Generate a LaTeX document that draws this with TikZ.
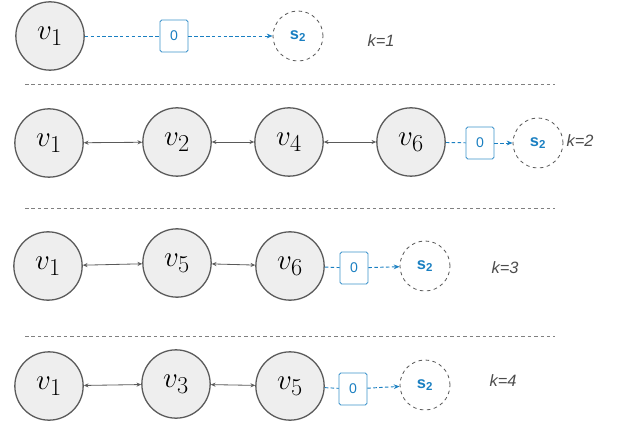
\documentclass[tikz,border=0pt]{standalone}
\usepackage{fontspec}
\setsansfont{Liberation Sans}
\usepackage{xcolor}
\usetikzlibrary{arrows.meta}

\definecolor{linkblue}{HTML}{1A7FC1}
\definecolor{nodegray}{HTML}{EEEEEE}
\definecolor{rimgray}{HTML}{5A5A5A}

\begin{document}
\begin{tikzpicture}[
    x=0.03cm, y=-0.03cm,
    vert/.style={circle, draw=rimgray, fill=nodegray, line width=1.1pt, minimum size=2.05cm, inner sep=0pt, font=\fontsize{29}{31}\selectfont},
    sink/.style={circle, draw=rimgray, dashed, line width=0.7pt, minimum size=1.5cm, inner sep=0pt, text=linkblue, font=\sffamily\bfseries\fontsize{14}{15}\selectfont},
    zero/.style={draw=linkblue!85, rounded corners=1.5pt, line width=0.7pt, minimum width=0.84cm, minimum height=0.96cm, inner sep=0pt, text=linkblue, font=\sffamily\fontsize{12}{13}\selectfont},
    kval/.style={font=\sffamily\itshape\fontsize{14}{15}\selectfont, text=rimgray!85!black},
    hop/.style={{Stealth[length=4pt,width=3.5pt]}-{Stealth[length=4pt,width=3.5pt]}, line width=0.7pt, rimgray},
    feed/.style={line width=0.8pt, linkblue, dash pattern=on 3pt off 2pt},
    tofeed/.style={feed, -{Stealth[length=5pt,width=4pt]}},
    sep/.style={gray, line width=0.6pt, dash pattern=on 3pt off 2.5pt}
]
\useasboundingbox (0,0) rectangle (622,432);

% k=1
\node[vert] (a1) at (50,36) {$v_1$};
\node[zero] (az) at (174,36) {0};
\node[sink] (as) at (298,36) {s\textsubscript{2}};
\node[kval] (ak) at (381,41) {k=1};
\draw[feed] (a1) -- (az);
\draw[tofeed] (az) -- (as);

\draw[sep] (25,84) -- (555,84);

% k=2
\node[vert] (b1) at (49,143) {$v_1$};
\node[vert] (b2) at (177,142) {$v_2$};
\node[vert] (b3) at (289,142) {$v_4$};
\node[vert] (b4) at (411,142) {$v_6$};
\node[zero] (bz) at (480,143) {0};
\node[sink] (bs) at (538,143) {s\textsubscript{2}};
\node[kval] (bk) at (580,141) {k=2};
\draw[hop] (b1) -- (b2);
\draw[hop] (b2) -- (b3);
\draw[hop] (b3) -- (b4);
\draw[feed] (b4) -- (bz);
\draw[tofeed] (bz) -- (bs);

\draw[sep] (25,208) -- (555,208);

% k=3
\node[vert] (c1) at (48,266) {$v_1$};
\node[vert] (c2) at (177,263) {$v_5$};
\node[vert] (c3) at (290,266) {$v_6$};
\node[zero] (cz) at (354,268) {0};
\node[sink] (cs) at (425,266) {s\textsubscript{2}};
\node[kval] (ck) at (505,268) {k=3};
\draw[hop] (c1) -- (c2);
\draw[hop] (c2) -- (c3);
\draw[feed] (c3) -- (cz);
\draw[tofeed] (cz) -- (cs);

\draw[sep] (25,336) -- (555,336);

% k=4
\node[vert] (d1) at (49,386) {$v_1$};
\node[vert] (d2) at (176,384) {$v_3$};
\node[vert] (d3) at (290,386) {$v_5$};
\node[zero] (dz) at (353,389) {0};
\node[sink] (ds) at (425,385) {s\textsubscript{2}};
\node[kval] (dk) at (503,381) {k=4};
\draw[hop] (d1) -- (d2);
\draw[hop] (d2) -- (d3);
\draw[feed] (d3) -- (dz);
\draw[tofeed] (dz) -- (ds);
\end{tikzpicture}
\end{document}
